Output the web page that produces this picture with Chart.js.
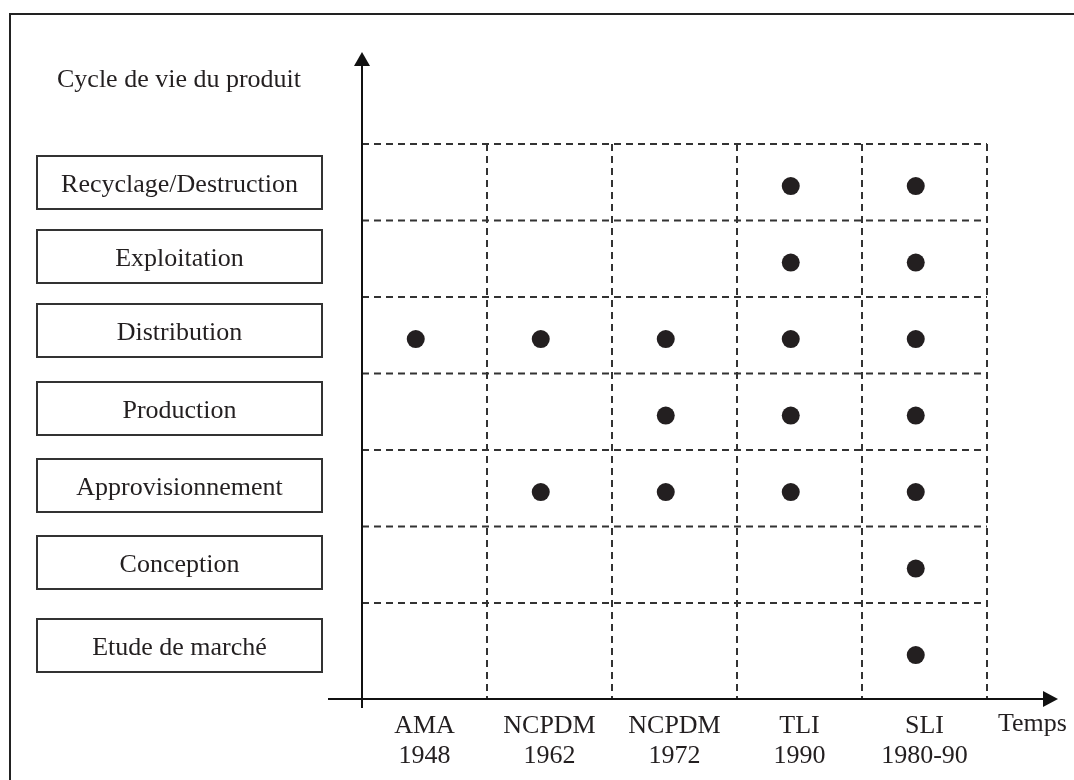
<!DOCTYPE html>
<html>
<head>
<meta charset="utf-8">
<script src="https://cdn.jsdelivr.net/npm/chart.js@4.4.0/dist/chart.umd.min.js"></script>
<style>
    html, body { margin: 0; padding: 0; background: #fff; }
    #wrap { width: 1074px; height: 780px; position: relative; }
</style>
</head>
<body>
<div id="wrap"><canvas id="lifeCycleChart"></canvas></div>
<script>
// étapes du cycle de vie, de bas en haut
const stages = ['Etude de marché', 'Conception', 'Approvisionnement', 'Production', 'Distribution', 'Exploitation', 'Recyclage/Destruction'];
// périodes sur l'axe du temps
const periodNames = ['AMA', 'NCPDM', 'NCPDM', 'TLI', 'SLI'];
const periodYears = ['1948', '1962', '1972', '1990', '1980-90'];
// étapes couvertes par chaque période (index dans stages)
const coverAMA = [4];
const coverNCPDM62 = [2, 4];
const coverNCPDM72 = [2, 3, 4];
const coverTLI = [2, 3, 4, 5, 6];
const coverSLI = [0, 1, 2, 3, 4, 5, 6];
const coverage = [coverAMA, coverNCPDM62, coverNCPDM72, coverTLI, coverSLI];

const yTitle = 'Cycle de vie du produit';
const xTitle = 'Temps';

const FONT = '26px "Liberation Serif", "Times New Roman", serif';
const INK = '#231f20';
const Y_MIN = -0.255;

function rowCenter(r) {
    // la première ligne descend jusqu'à l'axe
    return r === 0 ? 0.32 : r + 0.45;
}

const datasets = coverage.map((list, c) => ({
    label: periodNames[c] + ' ' + periodYears[c],
    data: list.map(r => ({ x: c + 0.43, y: rowCenter(r) })),
    pointRadius: 9,
    pointHoverRadius: 9,
    pointBackgroundColor: INK,
    pointBorderWidth: 0,
    showLine: false,
}));

const diagramPlugin = {
    id: 'diagram',
    beforeDatasetsDraw(chart) {
        const ctx = chart.ctx;
        const xs = chart.scales.x;
        const ys = chart.scales.y;
        const area = chart.chartArea;

        ctx.save();
        ctx.strokeStyle = '#333';
        ctx.lineWidth = 2;
        ctx.setLineDash([7, 5]);
        let gridRight = xs.getPixelForValue(periodNames.length);
        let gridTop = ys.getPixelForValue(stages.length);
        // lignes horizontales
        for (let r = 1; r <= stages.length; r++) {
            let y = ys.getPixelForValue(r);
            ctx.beginPath();
            ctx.moveTo(area.left, y);
            ctx.lineTo(gridRight, y);
            ctx.stroke();
        }
        // lignes verticales
        for (let c = 1; c <= periodNames.length; c++) {
            let x = xs.getPixelForValue(c);
            ctx.beginPath();
            ctx.moveTo(x, gridTop);
            ctx.lineTo(x, area.bottom);
            ctx.stroke();
        }
        ctx.restore();
    },
    afterDraw(chart) {
        const ctx = chart.ctx;
        const xs = chart.scales.x;
        const area = chart.chartArea;

        ctx.save();
        // cadre
        ctx.strokeStyle = '#222';
        ctx.lineWidth = 2;
        ctx.strokeRect(10, 14, 1100, 800);

        // axes
        ctx.strokeStyle = '#111';
        ctx.fillStyle = '#111';
        ctx.beginPath();
        ctx.moveTo(area.left, area.top + 10);
        ctx.lineTo(area.left, area.bottom + 9);
        ctx.moveTo(area.left - 34, area.bottom);
        ctx.lineTo(area.right - 10, area.bottom);
        ctx.stroke();

        ctx.beginPath();
        ctx.moveTo(area.left, area.top);
        ctx.lineTo(area.left - 8, area.top + 14);
        ctx.lineTo(area.left + 8, area.top + 14);
        ctx.closePath();
        ctx.fill();

        ctx.beginPath();
        ctx.moveTo(area.right, area.bottom);
        ctx.lineTo(area.right - 15, area.bottom - 8);
        ctx.lineTo(area.right - 15, area.bottom + 8);
        ctx.closePath();
        ctx.fill();

        // textes
        ctx.font = FONT;
        ctx.fillStyle = INK;
        ctx.textAlign = 'left';
        ctx.textBaseline = 'alphabetic';
        ctx.fillText(yTitle, 57, 87);
        ctx.fillText(xTitle, 998, 731);

        ctx.textAlign = 'center';
        periodNames.forEach((name, c) => {
            let x = xs.getPixelForValue(c + 0.5);
            ctx.fillText(name, x, 733);
            ctx.fillText(periodYears[c], x, 763);
        });

        // boîtes des étapes
        const boxTops = [619, 536, 459, 382, 304, 230, 156];
        ctx.strokeStyle = '#333';
        ctx.lineWidth = 2;
        stages.forEach((s, r) => {
            let top = boxTops[r];
            ctx.strokeRect(37, top, 285, 53);
            ctx.fillText(s, 37 + 285 / 2, top + 26.5 + 9);
        });
        ctx.restore();
    }
};

new Chart(document.getElementById('lifeCycleChart'), {
    type: 'scatter',
    data: { datasets },
    options: {
        responsive: true,
        maintainAspectRatio: false,
        animation: false,
        layout: { padding: { left: 362, right: 16, top: 52, bottom: 81 } },
        plugins: {
            legend: { display: false },
            tooltip: { enabled: false },
        },
        scales: {
            x: { type: 'linear', display: false, min: 0, max: 5.568 },
            y: { type: 'linear', display: false, min: Y_MIN, max: 8.203 },
        },
    },
    plugins: [diagramPlugin],
});
</script>
</body>
</html>
